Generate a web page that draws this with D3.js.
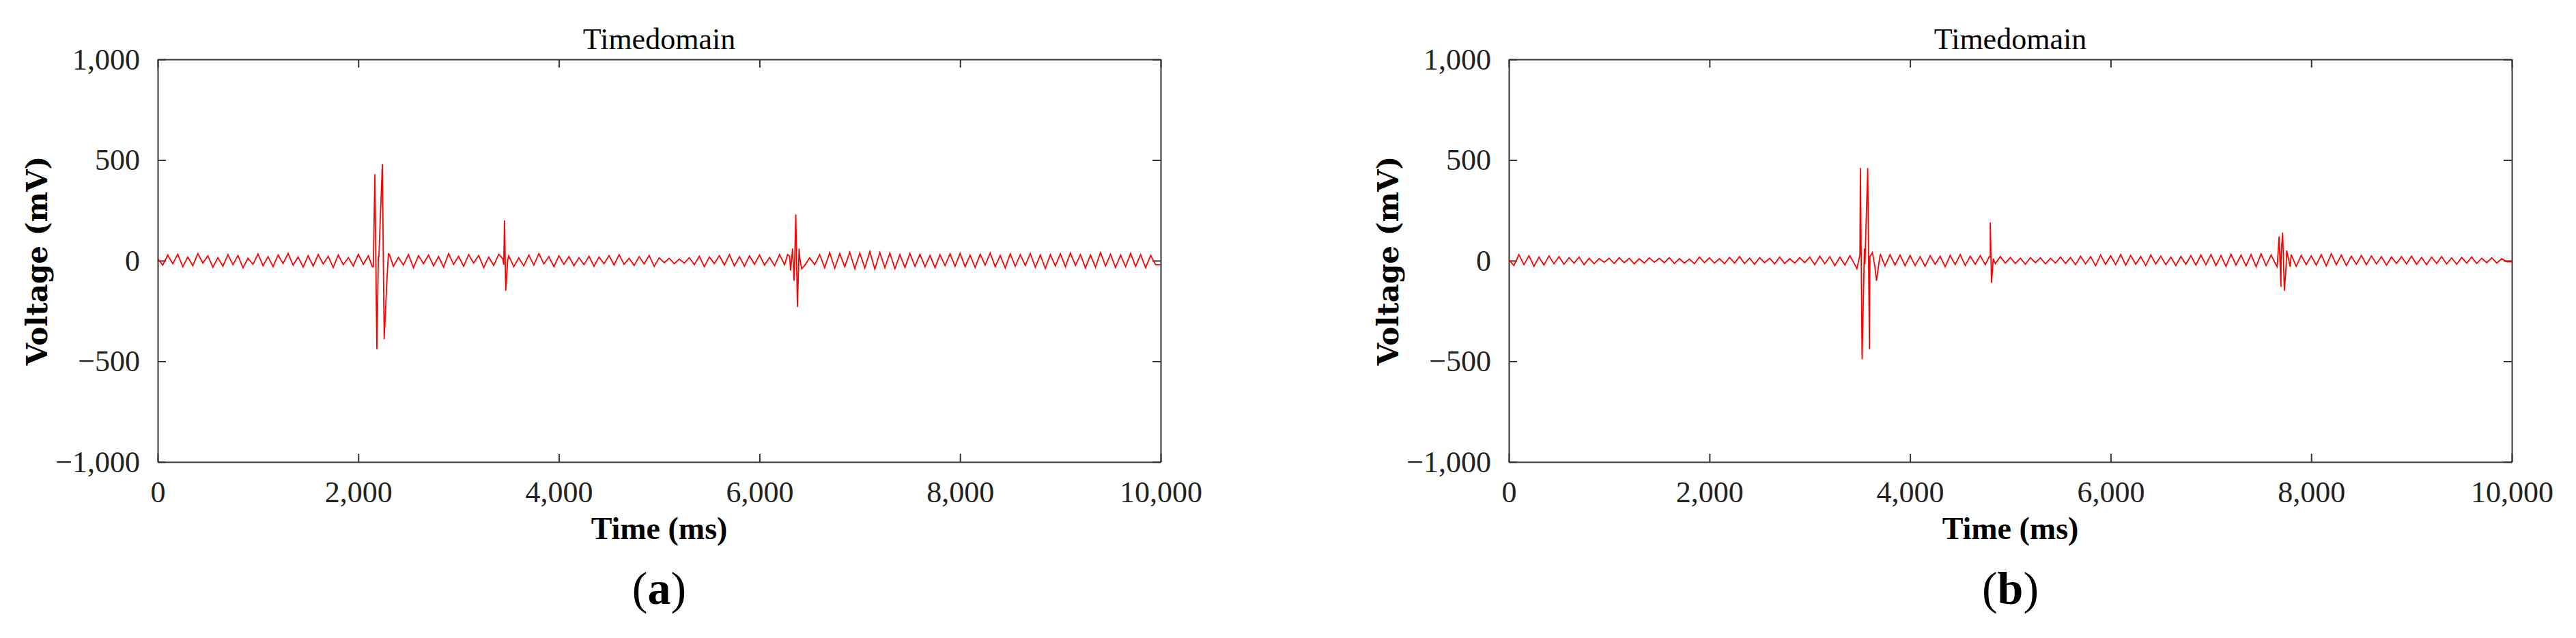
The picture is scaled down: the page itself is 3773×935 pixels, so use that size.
<!DOCTYPE html>
<html><head><meta charset="utf-8">
<script src="https://cdn.jsdelivr.net/npm/d3@7"></script>
<style>body{margin:0;background:#fff}</style>
</head><body><svg width="3773" height="935"></svg>
<script>
"use strict";

// noise samples every 50 ms, 0..9950
var noiseA=[10,-22,28,-15,32,-30,18,-25,35,-12,24,-33,15,-28,30,-20,26,-35,12,-18,
 33,-25,20,-30,28,-14,36,-22,18,-32,25,-27,30,-16,22,-34,28,-20,15,-26,
 32,-18,24,-30,20,-24,34,-28,16,-22,30,-35,25,-15,28,-26,20,-32,35,-18,
 22,-28,30,-12,26,-34,18,-24,32,-20,25,-30,14,-26,28,-22,35,-16,20,-30,
 24,-18,20,-25,15,-20,22,-28,18,-15,25,-22,30,-18,12,-24,20,-16,26,-28,
 14,-10,12,-15,8,-12,15,-20,22,-30,18,-14,25,-22,30,-26,20,-28,24,-18,
 28,-22,16,-25,30,-20,22,-15,18,-24,14,-20,30,-35,40,-38,35,-30,42,-40,
 38,-36,45,-42,40,-35,38,-40,30,-34,36,-28,32,-30,26,-35,30,-25,34,-28,
 36,-30,28,-34,32,-22,38,-30,26,-36,34,-28,30,-24,36,-32,28,-38,30,-26,
 34,-30,38,-24,30,-36,28,-32,40,-26,32,-34,28,-30,36,-28,30,-35,26,-20];
var noiseB=[5,-25,30,-20,25,-28,18,-22,24,-15,20,-18,15,-12,18,-20,12,-15,10,-8,
 12,-14,15,-10,12,-16,10,-12,14,-8,12,-10,15,-14,10,-12,8,-15,18,-10,
 14,-12,10,-15,16,-12,20,-14,12,-18,15,-10,12,-16,18,-14,10,-12,15,-10,
 18,-20,22,-15,20,-25,18,-22,25,-20,28,-18,20,-30,24,-26,30,-22,28,-25,
 26,-24,20,-28,25,-18,22,-30,26,-20,30,-24,22,-18,25,-20,18,-15,20,-12,
 16,-14,12,-18,15,-10,14,-16,12,-12,18,-14,15,-20,22,-16,20,-25,28,-18,
 24,-20,30,-22,26,-18,20,-24,28,-16,22,-20,18,-24,20,-18,25,-22,28,-20,
 30,-24,26,-28,32,-22,28,-26,30,-30,34,-24,28,-22,32,-26,30,-28,26,-20,
 24,-22,30,-26,34,-20,28,-24,22,-18,26,-20,24,-16,20,-22,18,-14,20,-16,
 22,-18,16,-20,18,-14,20,-16,14,-18,16,-12,18,-14,12,-10,14,-12,10,-5];
var stepMs=50;
// spike events [time ms, voltage mV]
var spikesA=[[2140,-30],[2165,430],[2185,-440],[2205,20],[2240,480],[2258,-390],[2285,-100],[2310,30],
 [3440,10],[3458,200],[3470,-150],[3490,5],
 [6280,30],[6310,-50],[6330,60],[6345,-100],[6362,230],[6378,-230],[6395,60],[6420,-40]];
var spikesB=[[3470,-40],[3505,460],[3522,-490],[3545,60],[3578,460],[3595,-440],[3625,40],[3665,-100],[3705,30],
 [4790,20],[4800,190],[4812,-110],[4830,10],
 [7660,-30],[7680,120],[7698,-130],[7715,140],[7732,-150],[7755,50],[7790,-30]];
var xTicks=[0,2000,4000,6000,8000,10000];
var yTicks=[-1000,-500,0,500,1000];
var panels=[{noise:noiseA,spikes:spikesA,left:231,label:"a"},{noise:noiseB,spikes:spikesB,left:2210,label:"b"}];

var svg=d3.select("svg");
var W=1469, plotTop=87, plotBottom=677;
var fmt=d3.format(",");
var serif="'Liberation Serif','DejaVu Serif',serif";

panels.forEach(function(p){
	var x=d3.scaleLinear().domain([0,10000]).range([p.left,p.left+W]);
	var y=d3.scaleLinear().domain([-1000,1000]).range([plotBottom,plotTop]);
	var pts=p.noise.map(function(v,i){return [i*stepMs,v];}).concat(p.spikes);
	pts.push([10000,p.noise[p.noise.length-1]]);
	pts.sort(function(a,b){return a[0]-b[0];});

	var g=svg.append("g").style("font-family",serif);
	var ax=[
		g.append("g").attr("transform","translate(0,"+plotBottom+")").call(d3.axisBottom(x).tickValues(xTicks).tickFormat(fmt).tickSizeInner(-12).tickSizeOuter(0).tickPadding(28)),
		g.append("g").attr("transform","translate(0,"+plotTop+")").call(d3.axisTop(x).tickValues(xTicks).tickFormat("").tickSizeInner(-12).tickSizeOuter(0)),
		g.append("g").attr("transform","translate("+p.left+",0)").call(d3.axisLeft(y).tickValues(yTicks).tickFormat(function(d){return d<0?"\u2212"+fmt(-d):fmt(d);}).tickSizeInner(-12).tickSizeOuter(0).tickPadding(26)),
		g.append("g").attr("transform","translate("+(p.left+W)+",0)").call(d3.axisRight(y).tickValues(yTicks).tickFormat("").tickSizeInner(-12).tickSizeOuter(0))
	];
	ax.forEach(function(a){
		a.selectAll("path,line").attr("stroke","#333").attr("stroke-width",2);
		a.selectAll("text").attr("font-size",44).attr("fill","#222").style("font-family",serif);
	});

	g.append("path").datum(pts)
		.attr("d",d3.line().x(function(d){return x(d[0]);}).y(function(d){return y(d[1]);}))
		.attr("fill","none").attr("stroke","#ff0000").attr("stroke-width",1.8);

	var cx=p.left+W/2;
	g.append("text").attr("x",cx).attr("y",72).attr("text-anchor","middle").attr("font-size",44).text("Timedomain");
	g.append("text").attr("x",cx).attr("y",790).attr("text-anchor","middle").attr("font-size",46).attr("font-weight","bold").text("Time (ms)");
	g.append("text").attr("transform","translate("+(p.left-162)+","+((plotTop+plotBottom)/2)+") rotate(-90)")
		.attr("text-anchor","middle").attr("font-size",42).attr("font-weight","bold").style("font-family","'DejaVu Serif',serif").text("Voltage (mV)");
	var lab=g.append("text").attr("x",cx).attr("y",885).attr("text-anchor","middle").attr("font-size",68);
	lab.append("tspan").text("(");
	lab.append("tspan").attr("font-weight","bold").text(p.label);
	lab.append("tspan").text(")");
});
</script></body></html>
